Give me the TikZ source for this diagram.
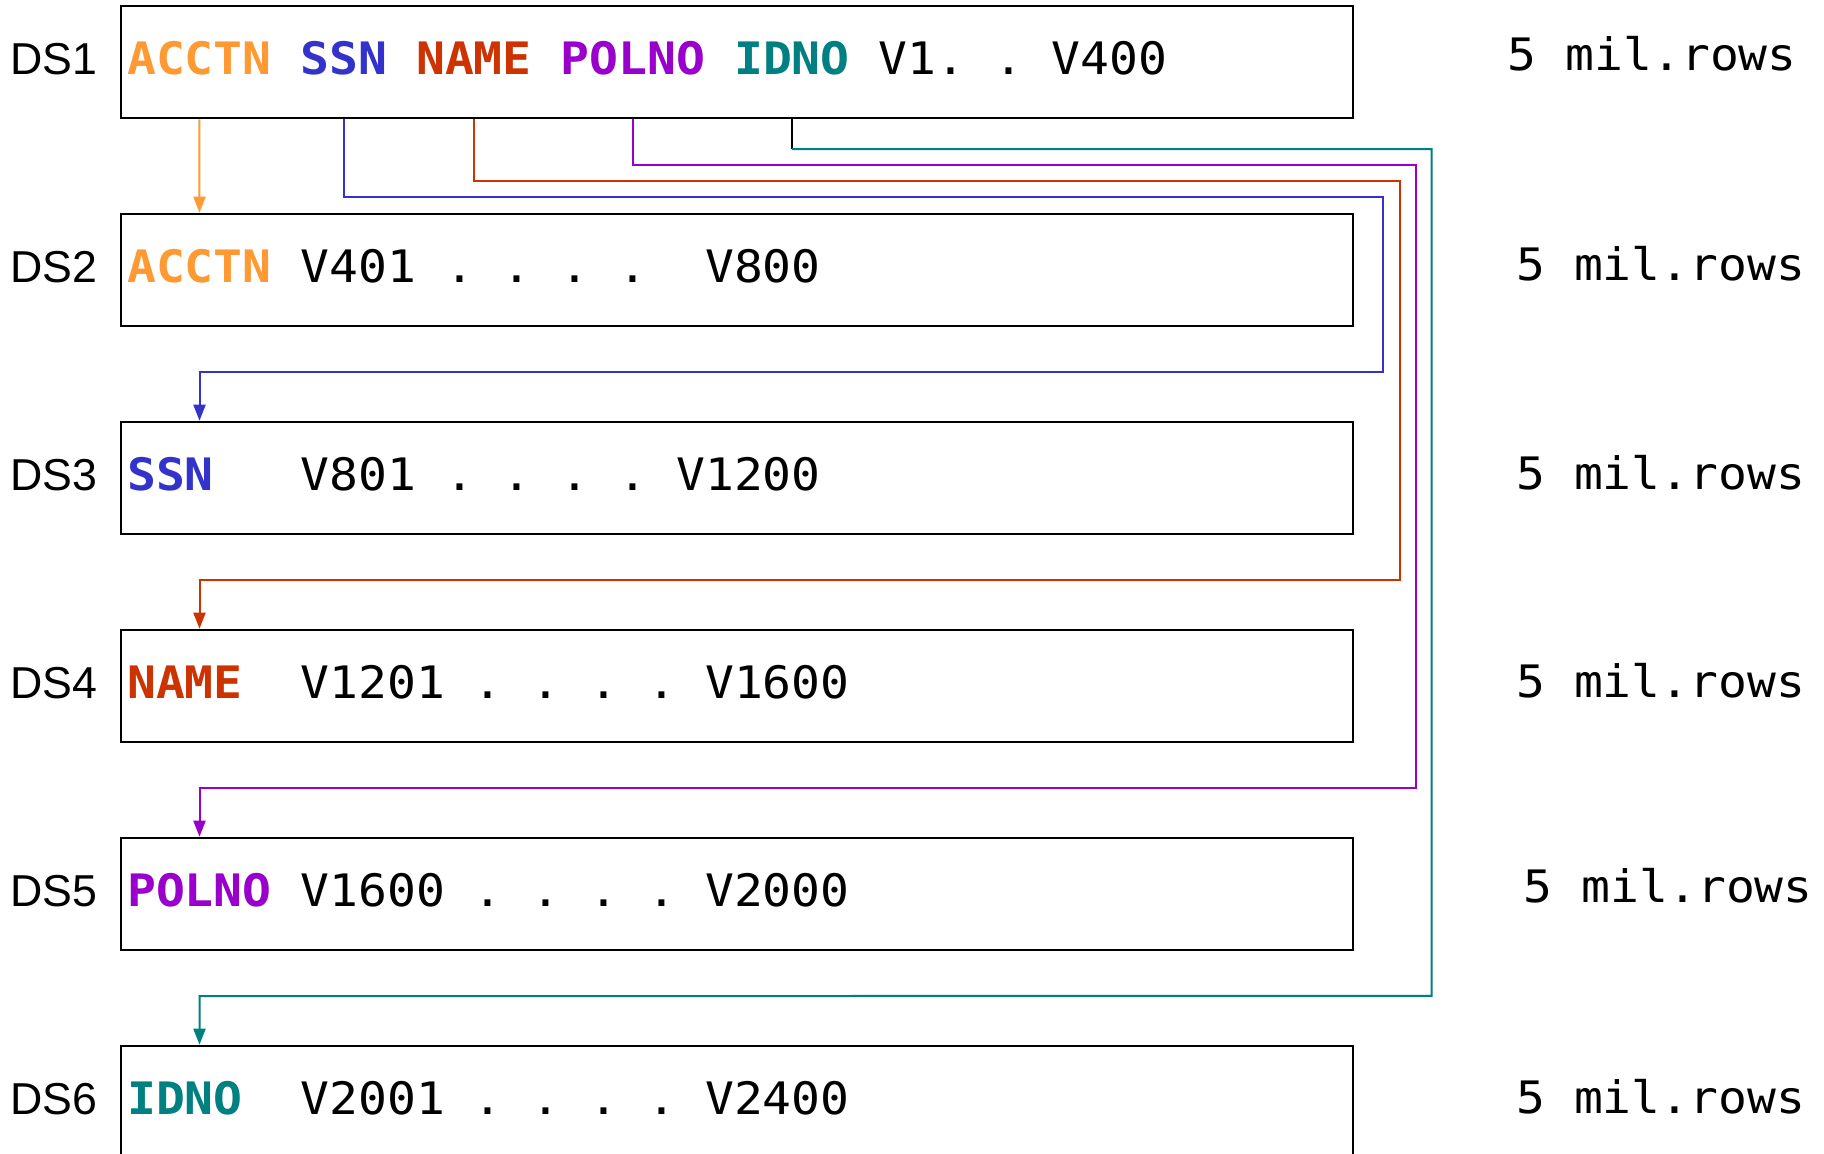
\documentclass[tikz,border=0pt]{standalone}
\usepackage{fontspec}
\usetikzlibrary{arrows.meta,calc}

% fixed-pitch face for the record layouts, sans face for the data set names
\newfontfamily\recfont[FakeStretch=1.0739]{DejaVu Sans Mono}
\newfontfamily\dsfont{Liberation Sans}

\definecolor{cacctn}{HTML}{FF9933}
\definecolor{cssn}{HTML}{3333CC}
\definecolor{cname}{HTML}{CC3300}
\definecolor{cpolno}{HTML}{9900CC}
\definecolor{cidno}{HTML}{008080}

% one character cell of the record font
\newcommand\gap{\hspace*{28.9pt}}

\begin{document}
\begin{tikzpicture}[x=1pt,y=-1pt,
  dsbox/.style={draw=black, line width=2.6pt, minimum width=1232pt,
                minimum height=112pt, inner sep=0pt, anchor=north west},
  rec/.style={inner sep=0pt, anchor=base west,
              font=\recfont\fontsize{44.7}{50}\selectfont},
  key/.style={rec, font=\recfont\bfseries\fontsize{44.7}{50}\selectfont},
  dsname/.style={inner sep=0pt, anchor=base west,
                 font=\dsfont\fontsize{44.7}{50}\selectfont},
  rows/.style={rec},
  conn/.style={line width=2pt, line join=miter},
  arr/.style={conn, -{Triangle[length=16pt,width=12pt]}},
]
\clip (0,0) rectangle (1824,1154);

% ---- data set boxes
\node[dsbox] (b1) at (119.5,4.7)    {};
\node[dsbox] (b2) at (119.5,212.7)  {};
\node[dsbox] (b3) at (119.5,420.7)  {};
\node[dsbox] (b4) at (119.5,628.7)  {};
\node[dsbox] (b5) at (119.5,836.7)  {};
\node[dsbox] (b6) at (119.5,1044.7) {};

% ---- data set names
\node[dsname] (n1) at (9.8,74.7)   {DS1};
\node[dsname] (n2) at (9.8,282.7)  {DS2};
\node[dsname] (n3) at (9.8,490.7)  {DS3};
\node[dsname] (n4) at (9.8,698.7)  {DS4};
\node[dsname] (n5) at (9.8,906.7)  {DS5};
\node[dsname] (n6) at (9.8,1114.7) {DS6};

% ---- DS1 record: all keys plus V1..V400
\node[key, text=cacctn] (k1a) at (127,74.7)   {ACCTN};
\node[key, text=cssn]   (k1s) at (300.4,74.7) {SSN};
\node[key, text=cname]  (k1n) at (416,74.7)   {NAME};
\node[key, text=cpolno] (k1p) at (560.5,74.7) {POLNO};
\node[key, text=cidno]  (k1i) at (733.9,74.7) {IDNO};
\node[rec]              (v1)  at (878.4,74.7) {V1.\gap.\gap V400};

% ---- DS2 .. DS6 records
\node[key, text=cacctn] (k2) at (127,282.7)  {ACCTN};
\node[rec]              (v2) at (300.4,282.7) {V401\gap.\gap.\gap.\gap.\gap\gap V800};
\node[key, text=cssn]   (k3) at (127,490.7)  {SSN};
\node[rec]              (v3) at (300.4,490.7) {V801\gap.\gap.\gap.\gap.\gap V1200};
\node[key, text=cname]  (k4) at (127,698.7)  {NAME};
\node[rec]              (v4) at (300.4,698.7) {V1201\gap.\gap.\gap.\gap.\gap V1600};
\node[key, text=cpolno] (k5) at (127,906.7)  {POLNO};
\node[rec]              (v5) at (300.4,906.7) {V1600\gap.\gap.\gap.\gap.\gap V2000};
\node[key, text=cidno]  (k6) at (127,1114.7) {IDNO};
\node[rec]              (v6) at (300.4,1114.7) {V2001\gap.\gap.\gap.\gap.\gap V2400};

% ---- row counts
\node[rows] (r1) at (1507.5,70.7)  {5\gap mil.rows};
\node[rows] (r2) at (1516,280.7)   {5\gap mil.rows};
\node[rows] (r3) at (1516,489.7)   {5\gap mil.rows};
\node[rows] (r4) at (1516,697.7)   {5\gap mil.rows};
\node[rows] (r5) at (1523.5,902.7) {5\gap mil.rows};
\node[rows] (r6) at (1516,1113.7)  {5\gap mil.rows};

% ---- entry points on the target boxes
\coordinate (in2) at ($(b2.north west)+(80,0)$);
\coordinate (in3) at ($(b3.north west)+(80,0)$);
\coordinate (in4) at ($(b4.north west)+(80,0)$);
\coordinate (in5) at ($(b5.north west)+(80,0)$);
\coordinate (in6) at ($(b6.north west)+(80,0)$);

% ---- key links
\draw[arr, cacctn] (k1a |- b1.south) -- (in2);
\draw[arr, cssn]   (k1s |- b1.south) |- (1383.3,196.6)
                   |- ($(in3)+(0,-48.5)$) -- (in3);
\draw[arr, cname]  (k1n |- b1.south) |- (1399.6,180.8)
                   |- ($(in4)+(0,-48.5)$) -- (in4);
\draw[arr, cpolno] (k1p |- b1.south) |- (1415.7,164.7)
                   |- ($(in5)+(0,-48.5)$) -- (in5);
\draw[conn, black] (k1i |- b1.south) -- (k1i |- 0,149);
\draw[arr, cidno]  (k1i |- 0,149) -| (1431.5,995.8)
                   -- ($(in6)+(0,-48.5)$) -- (in6);
\end{tikzpicture}
\end{document}
